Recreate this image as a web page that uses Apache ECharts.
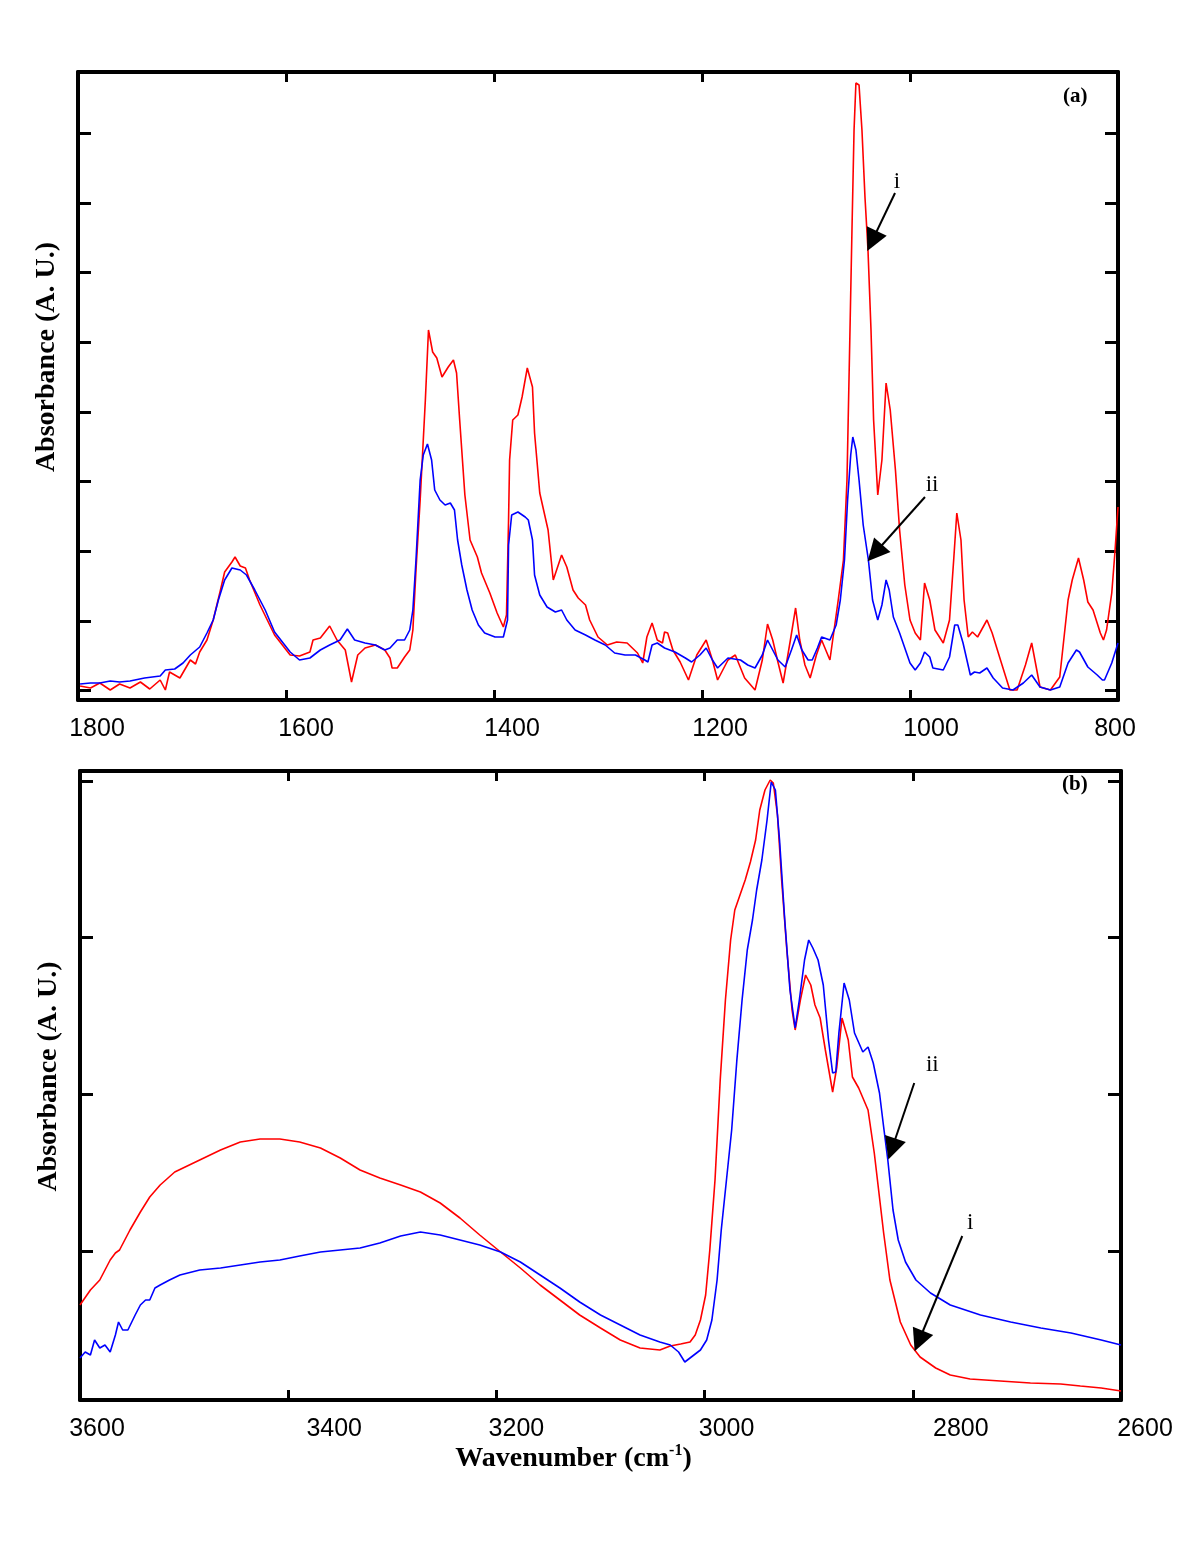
<!DOCTYPE html>
<html>
<head>
<meta charset="utf-8">
<script src="https://cdn.jsdelivr.net/npm/echarts@6/dist/echarts.min.js"></script>
<style>html,body{margin:0;padding:0;background:#fff}#c{width:1197px;height:1549px}</style>
</head>
<body>
<div id="c"></div>
<script>
// ---------- DATA ----------
// Panel (a): 1800-800 cm-1, absorbance in arbitrary units
const redA_wn = [1798,1788,1779,1769,1760,1750,1740,1731,1721,1716,1712,1702,1692,1687,1683,1676,1670,1663,1659,1652,1649,1644,1639,1635,1625,1611,1596,1587,1577,1574,1567,1558,1551,1543,1537,1531,1524,1514,1505,1500,1498,1493,1486,1481,1478,1475,1471,1466,1463,1459,1455,1450,1444,1439,1436,1433,1428,1423,1416,1412,1404,1397,1391,1388,1386,1385,1382,1377,1373,1368,1363,1361,1356,1348,1343,1335,1330,1324,1319,1312,1308,1300,1291,1282,1272,1262,1257,1253,1248,1243,1238,1236,1233,1228,1221,1213,1205,1196,1190,1185,1175,1168,1159,1149,1142,1137,1132,1127,1122,1115,1110,1106,1101,1096,1090,1085,1077,1069,1064,1060.6,1057.7,1055.8,1053.8,1052,1049,1046.2,1043.3,1040.4,1037.5,1035,1031,1027,1023,1019,1014,1010,1005,1000,995,990,986,981,976,968,962,958,955,951,948,944,940,935,926,921,913,904,897,889,883,879,875,865,856,848,844,838,833,829,824,817,814,811,806,803,800];
const redA_abs = [14,12,17,10,16,12,18,11,20,10,28,22,40,36,48,60,80,110,128,138,143,134,132,120,95,65,45,44,48,60,62,74,60,50,18,45,52,55,50,42,32,32,43,50,70,130,200,300,370,348,342,323,333,340,327,280,205,160,143,127,107,87,73,85,180,240,280,285,303,332,313,267,207,170,120,145,133,110,102,95,80,63,55,58,57,47,37,63,77,60,57,68,67,50,38,20,45,60,40,20,40,45,22,10,40,76,60,38,17,60,92,60,35,22,45,60,40,100,140,220,370,470,570,617,615,570,503,450,370,280,205,240,317,290,230,170,115,80,67,60,117,100,70,57,80,140,187,160,100,63,68,63,80,67,40,10,10,35,57,35,13,10,23,100,120,142,120,98,90,67,60,70,107,147,193];
const blueA_wn = [1798,1788,1779,1769,1760,1750,1736,1721,1716,1707,1699,1692,1683,1676,1670,1665,1659,1652,1644,1638,1630,1620,1611,1596,1587,1577,1567,1558,1548,1541,1534,1524,1514,1505,1500,1493,1486,1481,1478,1475,1471,1468,1464,1460,1457,1452,1447,1442,1438,1435,1431,1426,1421,1415,1409,1399,1391,1387,1386,1383,1377,1370,1367,1363,1361,1356,1349,1341,1335,1330,1322,1312,1303,1293,1284,1274,1264,1255,1252,1248,1243,1236,1226,1216,1210,1202,1196,1190,1185,1175,1163,1156,1149,1142,1137,1132,1127,1120,1114,1109,1104,1098,1094,1089,1085,1077,1071,1067,1063,1060,1057,1055,1052,1049,1045,1040,1036,1031,1027,1023,1020,1016,1010,1000,995,990,986,981,978,968,962,957,954,949,942,938,933,926,920,911,901,891,883,875,865,856,848,840,837,829,820,815,813,806,800];
const blueA_abs = [16,17,17,19,18,19,22,24,30,31,37,45,53,67,80,100,120,132,130,125,110,90,68,48,40,42,50,55,60,71,60,57,55,50,52,60,60,70,90,140,220,245,256,240,210,200,195,197,190,160,135,110,90,75,67,63,63,80,155,185,188,183,180,160,125,105,93,88,90,80,70,65,60,55,47,45,45,40,38,55,57,52,48,42,38,45,52,40,32,42,40,35,32,45,60,50,40,33,50,65,50,40,40,52,63,60,75,100,140,200,245,263,250,220,175,140,100,80,95,120,110,83,67,37,30,37,48,43,32,30,43,75,75,57,25,28,27,32,22,12,10,17,25,13,10,13,37,50,48,33,25,20,20,37,57];
// Panel (b): 3600-2600 cm-1
const redB_wn = [3600,3590,3581,3571,3566,3562,3552,3542,3533,3523,3509,3485,3465,3446,3427,3408,3389,3369,3350,3331,3312,3292,3273,3254,3235,3216,3196,3177,3158,3139,3120,3100,3081,3062,3043,3033,3023,3014,3009,3004,2999,2995,2990,2985,2980,2975,2971,2966,2961,2956,2951,2947,2942,2937,2934,2930,2926,2921,2916,2913,2908,2903,2898,2894,2889,2884,2877,2873,2868,2862,2858,2852,2843,2837,2828,2822,2812,2802,2793,2778,2764,2745,2716,2687,2658,2639,2619,2600];
const redB_abs = [95,110,120,140,147,150,170,188,203,215,228,240,250,258,261,261,258,252,242,230,222,215,208,197,182,165,148,132,115,100,85,72,60,52,50,54,56,58,65,80,105,150,220,320,400,460,490,505,520,538,560,590,610,620,617,585,520,450,390,370,400,425,415,395,382,350,308,333,382,360,323,312,290,247,167,120,78,55,43,32,25,21,19,17,16,14,12,9];
const blueB_wn = [3600,3595,3590,3586,3581,3576,3571,3566,3563,3559,3554,3547,3542,3537,3533,3528,3523,3514,3504,3485,3465,3446,3427,3408,3389,3369,3350,3331,3312,3292,3273,3254,3235,3216,3196,3177,3158,3139,3120,3100,3081,3062,3043,3033,3025,3019,3014,3004,2998,2993,2988,2984,2979,2974,2969,2964,2959,2954,2950,2945,2940,2936,2932,2928,2923,2918,2913,2909,2904,2900,2896,2891,2886,2881,2877,2874,2871,2866,2861,2856,2848,2843,2838,2832,2828,2824,2819,2814,2807,2797,2783,2764,2735,2706,2677,2648,2619,2600];
const blueB_abs = [42,48,45,60,52,55,48,65,78,70,70,85,95,100,100,112,115,120,125,130,132,135,138,140,144,148,150,152,157,164,168,165,160,155,148,138,125,112,98,85,75,65,58,55,48,38,42,50,60,80,120,170,220,270,340,400,450,480,510,540,580,618,610,560,480,410,372,400,440,460,452,440,415,360,327,328,367,417,400,367,348,353,337,307,273,240,190,160,138,120,107,95,85,78,72,67,60,55];

// axis ticks / labels
const xLabelsA = [1800,1600,1400,1200,1000,800];
const xLabelsB = [3600,3400,3200,3000,2800,2600];
const yTicksA = [9.3,79,148.7,218.4,288.1,357.8,427.5,497.2,566.9];
const yTicksB = [149,305.7,462.3,619];

// annotations (data coordinates)
const arrowsA = [
  {text:'i',  textAt:[1012.5,518], from:[1014.4,507], to:[1036.5,459]},
  {text:'ii', textAt:[978.8,215],  from:[985.6,203],  to:[1033.7,147]}
];
const arrowsB = [
  {text:'ii', textAt:[2781.3,335], from:[2798.6,317], to:[2820.1,251]},
  {text:'i',  textAt:[2744.8,177], from:[2752.5,164], to:[2794.2,59]}
];

// ---------- STYLE / LAYOUT ----------
const labelShiftA = {1800:19,1600:20,1400:18,1200:18,1000:21,800:-3};
const labelShiftB = {3600:17,3400:46,3200:20,3000:22,2800:48,2600:24};
const tickFont = {fontFamily:'Liberation Sans', fontSize:25, color:'#000'};
const serif = 'Liberation Serif';

function zip(a,b){ return a.map((v,i)=>[v,b[i]]); }
function richFor(shift){
  const r = {};
  Object.keys(shift).forEach(k=>{
    const s = shift[k];
    r['k'+k] = Object.assign({padding: s>=0 ? [0,0,0,2*s] : [0,-2*s,0,0]}, tickFont);
  });
  return r;
}
const axisLineStyle = {show:true, onZero:false, lineStyle:{color:'#000', width:4}};

function xAxisBottom(grid, min, max, labels, shift, extra){
  return Object.assign({
    gridIndex:grid, type:'value', inverse:true, min:min, max:max, interval:200, position:'bottom',
    axisLine:axisLineStyle,
    axisTick:{show:true, inside:true, length:10, lineStyle:{color:'#000', width:3}},
    axisLabel:{show:true, margin:17, showMinLabel:true, showMaxLabel:true,
      customValues: labels,
      formatter: v => '{k'+v+'|'+v+'}', rich: richFor(shift)},
    splitLine:{show:false}
  }, extra||{});
}
function xAxisTop(grid, min, max){
  return {gridIndex:grid, type:'value', inverse:true, min:min, max:max, interval:200, position:'top',
    axisLine:axisLineStyle,
    axisTick:{show:true, inside:true, length:10, lineStyle:{color:'#000', width:3}},
    axisLabel:{show:false}, splitLine:{show:false}};
}
function yAxis(grid, max, ticks, pos, extra){
  return Object.assign({gridIndex:grid, type:'value', min:0, max:max, position:pos,
    axisLine:axisLineStyle,
    axisTick:{show:true, inside:true, length:13, customValues:ticks, lineStyle:{color:'#000', width:3}},
    axisLabel:{show:false}, splitLine:{show:false}}, extra||{});
}
function yName(shiftUp){
  return {name:'Absorbance (A. U.)', nameLocation:'middle', nameGap:17, nameRotate:90,
    nameTextStyle:{fontFamily:serif, fontWeight:'bold', fontSize:28, color:'#000', padding:[0,0,0,2*shiftUp]}};
}
function annot(arrows){
  return {
    markLine:{silent:true, animation:false, symbol:['none','triangle'], symbolSize:22,
      lineStyle:{color:'#000', width:2, type:'solid'}, itemStyle:{color:'#000'},
      label:{show:false},
      data: arrows.map(a=>[{coord:a.from},{coord:a.to}])},
    markPoint:{silent:true, animation:false, symbol:'circle', symbolSize:1,
      itemStyle:{color:'rgba(0,0,0,0)'},
      label:{show:true, position:'inside', formatter:p=>p.name, fontFamily:serif, fontSize:23, color:'#000'},
      data: arrows.map(a=>({name:a.text, coord:a.textAt}))}
  };
}
function line(name, data, color, xi, yi, extra){
  return Object.assign({name:name, type:'line', data:data, xAxisIndex:xi, yAxisIndex:yi,
    showSymbol:false, symbol:'none', smooth:false, animation:false,
    lineStyle:{color:color, width:1.6}, itemStyle:{color:color}}, extra||{});
}

const option = {
  animation:false,
  backgroundColor:'#fff',
  grid:[{left:78, top:72, width:1040, height:628},{left:80, top:771, width:1041, height:629}],
  xAxis:[
    xAxisBottom(0, 800, 1800, xLabelsA, labelShiftA),
    xAxisTop(0, 800, 1800),
    xAxisBottom(1, 2600, 3600, xLabelsB, labelShiftB, {
      name:'{t|Wavenumber (cm}{s|-1}{t|)}', nameLocation:'middle', nameGap:39,
      nameTextStyle:{fontFamily:serif, fontWeight:'bold', fontSize:28, color:'#000', padding:[0,54,0,0],
        rich:{t:{fontFamily:serif, fontWeight:'bold', fontSize:28, color:'#000', lineHeight:31},
              s:{fontFamily:serif, fontWeight:'bold', fontSize:16, color:'#000', verticalAlign:'top', padding:[0,0,12,0]}}}
    }),
    xAxisTop(1, 2600, 3600)
  ],
  yAxis:[
    yAxis(0, 628, yTicksA, 'left', yName(29)),
    yAxis(0, 628, yTicksA, 'right'),
    yAxis(1, 629, yTicksB, 'left', yName(9)),
    yAxis(1, 629, yTicksB, 'right')
  ],
  graphic:[
    {type:'text', left:1063, top:86, style:{text:'(a)', font:'bold 21px "Liberation Serif"', fill:'#000'}},
    {type:'text', left:1062, top:774, style:{text:'(b)', font:'bold 21px "Liberation Serif"', fill:'#000'}}
  ],
  series:[
    line('i (a)', zip(redA_wn, redA_abs), '#ff0000', 0, 0, annot(arrowsA)),
    line('ii (a)', zip(blueA_wn, blueA_abs), '#0000ff', 0, 0),
    line('i (b)', zip(redB_wn, redB_abs), '#ff0000', 2, 2, annot(arrowsB)),
    line('ii (b)', zip(blueB_wn, blueB_abs), '#0000ff', 2, 2)
  ]
};
const chart = echarts.init(document.getElementById('c'), null, {renderer:'canvas'});
chart.setOption(option);
</script>
</body>
</html>
